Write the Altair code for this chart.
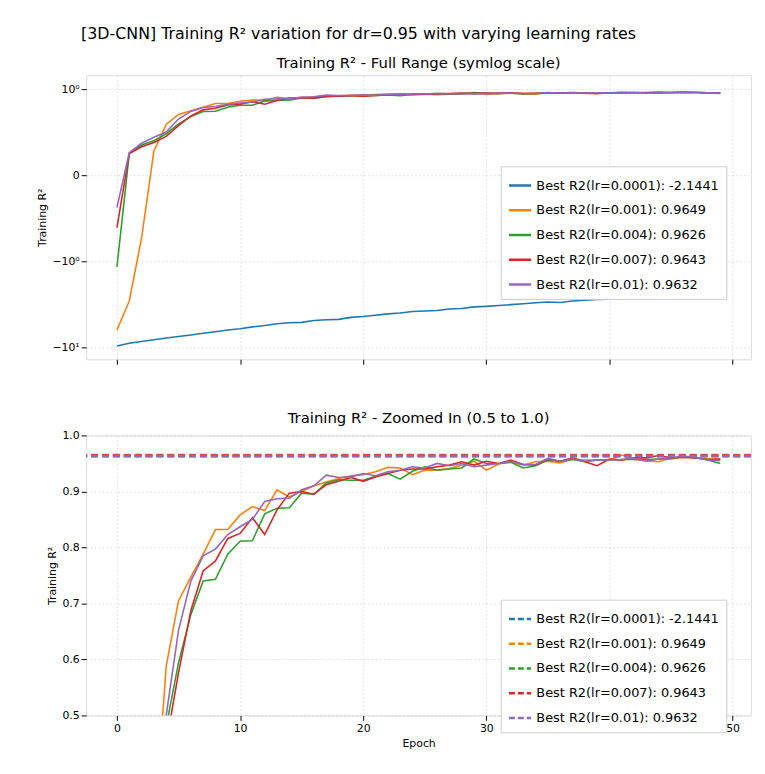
import altair as alt
import pandas as pd

EPOCHS = list(range(50))
LR_LABELS = ["lr=0.0001", "lr=0.001", "lr=0.004", "lr=0.007", "lr=0.01"]
BEST = [-2.1441, 0.9649, 0.9626, 0.9643, 0.9632]
COLORS = ["#1f77b4", "#ff7f0e", "#2ca02c", "#d62728", "#9467bd"]

R2_LR0001 = [-9.7, -9.0, -8.6, -8.2, -7.8, -7.5, -7.2, -6.9, -6.6, -6.3,
             -6.1, -5.8, -5.6, -5.35, -5.2, -5.15, -4.9, -4.8, -4.75, -4.5,
             -4.4, -4.25, -4.1, -4.0, -3.85, -3.8, -3.75, -3.6, -3.55, -3.4,
             -3.35, -3.28, -3.2, -3.12, -3.05, -2.98, -3.02, -2.9, -2.84, -2.78,
             -2.76, -2.7, -2.68, -2.6, -2.62, -2.56, -2.52, -2.5, -2.4, -2.1441]
R2_LR001 = [-6.3, -2.9, -0.73, 0.28, 0.588, 0.705, 0.747, 0.788, 0.832, 0.832,
            0.858, 0.873, 0.866, 0.903, 0.89, 0.9, 0.91, 0.917, 0.923, 0.928,
            0.93, 0.935, 0.943, 0.942, 0.93, 0.938, 0.938, 0.941, 0.947, 0.954,
            0.938, 0.949, 0.953, 0.947, 0.953, 0.954, 0.951, 0.958, 0.956, 0.956,
            0.956, 0.9649, 0.957, 0.955, 0.953, 0.96, 0.961, 0.96, 0.958, 0.958]
R2_LR004 = [-1.17, 0.25, 0.35, 0.40, 0.48, 0.594, 0.68, 0.74, 0.743, 0.788,
            0.811, 0.812, 0.86, 0.87, 0.871, 0.897, 0.895, 0.915, 0.921, 0.92,
            0.92, 0.927, 0.932, 0.922, 0.936, 0.944, 0.938, 0.94, 0.942, 0.958,
            0.95, 0.95, 0.952, 0.942, 0.946, 0.956, 0.954, 0.957, 0.953, 0.956,
            0.956, 0.957, 0.957, 0.957, 0.958, 0.958, 0.9626, 0.96, 0.956, 0.95]
R2_LR007 = [-0.61, 0.25, 0.33, 0.38, 0.45, 0.576, 0.687, 0.758, 0.776, 0.816,
            0.825, 0.853, 0.823, 0.867, 0.897, 0.9, 0.895, 0.912, 0.918, 0.925,
            0.918, 0.926, 0.932, 0.938, 0.94, 0.94, 0.944, 0.947, 0.953, 0.947,
            0.954, 0.95, 0.956, 0.948, 0.947, 0.958, 0.954, 0.96, 0.953, 0.946,
            0.958, 0.956, 0.96, 0.96, 0.9643, 0.96, 0.961, 0.96, 0.957, 0.958]
R2_LR01 = [-0.375, 0.26, 0.37, 0.44, 0.50, 0.652, 0.74, 0.785, 0.797, 0.823,
           0.837, 0.85, 0.882, 0.887, 0.888, 0.903, 0.91, 0.929, 0.925, 0.926,
           0.932, 0.928, 0.935, 0.938, 0.944, 0.942, 0.95, 0.946, 0.95, 0.944,
           0.947, 0.95, 0.954, 0.948, 0.948, 0.959, 0.954, 0.958, 0.954, 0.956,
           0.956, 0.957, 0.959, 0.954, 0.958, 0.96, 0.9632, 0.96, 0.956, 0.955]

SERIES = [R2_LR0001, R2_LR001, R2_LR004, R2_LR007, R2_LR01]
NAMES = [f"Best R2({lr}): {b:.4f}" for lr, b in zip(LR_LABELS, BEST)]

rows = []
for name, vals in zip(NAMES, SERIES):
    for e, v in zip(EPOCHS, vals):
        rows.append({"epoch": e, "r2": v, "series": name})
df = pd.DataFrame(rows)
best_df = pd.DataFrame({"series": NAMES, "best": BEST})

FONT = "DejaVu Sans"
W, H1, H2 = 672, 287, 283
x_scale = alt.Scale(domain=[-2.5, 51.5], nice=False, zero=False)
grid = dict(grid=True, gridDash=[2, 2], gridColor="#c4c4c4", gridWidth=0.5,
            domain=False, tickColor="black", labelColor="black", titleColor="black",
            labelFontSize=11, titleFontSize=11, titleFontWeight="normal", labelFont=FONT, titleFont=FONT)


def legend(y, dash):
    return alt.Legend(orient="none", legendX=419, legendY=y, title=None, symbolType="stroke",
                      symbolStrokeWidth=2.5, symbolSize=500, symbolDash=dash,
                      labelFontSize=13, labelFont=FONT, fillColor="white",
                      strokeColor="#cccccc", padding=7, rowPadding=5, labelLimit=400)


# symlog (linthresh=1) done like matplotlib: linear inside [-1, 1], log decades outside
top = (
    alt.Chart(df)
    .transform_calculate(
        ys="abs(datum.r2) <= 1 ? datum.r2 : (datum.r2 > 0 ? 1 : -1) * (1 + log(abs(datum.r2)) / LN10)"
    )
    .mark_line(strokeWidth=1.6)
    .encode(
        x=alt.X("epoch:Q", scale=x_scale, title=None,
                axis=alt.Axis(labels=False, values=list(range(0, 51, 10)), **grid)),
        y=alt.Y("ys:Q", scale=alt.Scale(domain=[-2.14, 1.16], nice=False), title="Training R²",
                axis=alt.Axis(values=[-2, -1, 0, 1],
                              labelExpr="datum.value == 1 ? '10⁰' : datum.value == 0 ? '0' : datum.value == -1 ? '−10⁰' : '−10¹'",
                              **grid)),
        color=alt.Color("series:N", scale=alt.Scale(domain=NAMES, range=COLORS), legend=legend(92, [1, 0])),
    )
    .properties(width=W, height=H1,
                title=alt.TitleParams("Training R² - Full Range (symlog scale)", fontSize=15,
                                      font=FONT, fontWeight="normal"))
)

lower_legend = legend(166, [6, 3])
lines = (
    alt.Chart(df)
    .mark_line(strokeWidth=1.6, clip=True)
    .encode(
        x=alt.X("epoch:Q", scale=x_scale, title="Epoch",
                axis=alt.Axis(values=list(range(0, 51, 10)), **grid)),
        y=alt.Y("r2:Q", scale=alt.Scale(domain=[0.5, 1.0], nice=False), title="Training R²",
                axis=alt.Axis(values=[0.5, 0.6, 0.7, 0.8, 0.9, 1.0], format=".1f", **grid)),
        color=alt.Color("series:N", scale=alt.Scale(domain=NAMES, range=COLORS), legend=lower_legend),
    )
)
best_rules = (
    alt.Chart(best_df)
    .mark_rule(strokeWidth=2.5, strokeDash=[7, 4], clip=True)
    .encode(
        y=alt.Y("best:Q"),
        color=alt.Color("series:N", scale=alt.Scale(domain=NAMES, range=COLORS), legend=lower_legend),
    )
)
bottom = alt.layer(lines, best_rules).properties(
    width=W, height=H2,
    title=alt.TitleParams("Training R² - Zoomed In (0.5 to 1.0)", fontSize=15,
                          font=FONT, fontWeight="normal"))

chart = (
    alt.vconcat(top, bottom, spacing=45)
    .resolve_scale(color="independent")
    .resolve_legend(color="independent")
    .properties(
        padding={"left": 28, "top": 14, "right": 5, "bottom": 5},
        title=alt.TitleParams(
            "[3D-CNN] Training R² variation for dr=0.95 with varying learning rates",
            anchor="start", dx=45, fontSize=16, font=FONT, fontWeight="normal", offset=14))
    .configure_view(stroke="black", strokeWidth=1)
    .configure(background="white")
)

chart.save("out.html", embed_options={"renderer": "svg", "actions": False})
